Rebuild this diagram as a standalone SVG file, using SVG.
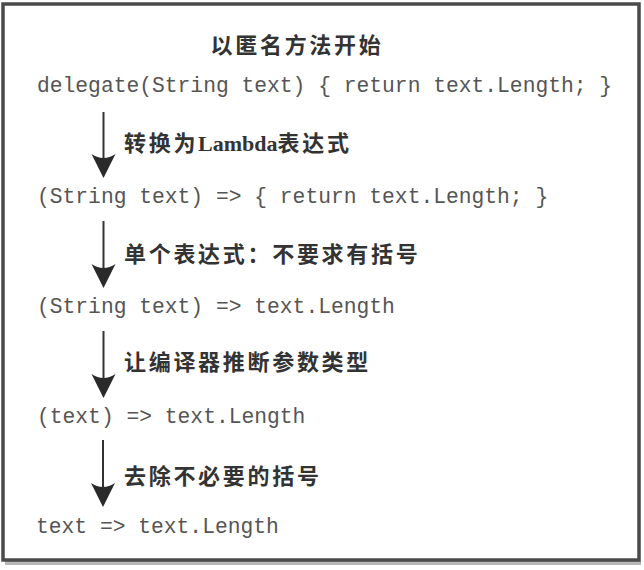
<svg xmlns="http://www.w3.org/2000/svg" width="644" height="570" viewBox="0 0 644 570">
  <defs>
    <style>
      .code { font-family: "Liberation Mono", "DejaVu Sans Mono", monospace; font-size: 21.3px; fill: #555; }
      .label { font-family: "Liberation Serif", "Noto Sans CJK SC", serif; font-size: 22px; font-weight: bold; fill: #333; letter-spacing: 2.7px; }
      .shaft { stroke: #333; stroke-width: 2; fill: none; }
      .head { fill: #2a2a2a; }
      .frame { fill: #fff; stroke: #4a4a4a; stroke-width: 3.5; }
    </style>
    <path id="arrowhead" d="M0,0 L-12,-24 Q0,-16 12,-24 Z"/>
  </defs>

  <rect width="644" height="570" fill="#fff"/>
  <rect x="5" y="561" width="636" height="4" fill="#999" opacity="0.7"/>
  <rect class="frame" x="3" y="4" width="636" height="556"/>

  <g id="title">
    <text class="label" x="297" y="53" text-anchor="middle">以匿名方法开始</text>
  </g>

  <g id="step1">
    <text class="code" x="37" y="92">delegate(String text) { return text.Length; }</text>
  </g>
  <g id="step2">
    <text class="code" x="37" y="203">(String text) =&gt; { return text.Length; }</text>
  </g>
  <g id="step3">
    <text class="code" x="37" y="313">(String text) =&gt; text.Length</text>
  </g>
  <g id="step4">
    <text class="code" x="37" y="423">(text) =&gt; text.Length</text>
  </g>
  <g id="step5">
    <text class="code" x="36" y="533">text =&gt; text.Length</text>
  </g>

  <g id="connectors">
    <g id="c1">
      <line class="shaft" x1="103.5" y1="112" x2="103.5" y2="165"/>
      <use href="#arrowhead" class="head" x="103.5" y="178"/>
      <text class="label" x="124" y="151">转换为<tspan letter-spacing="0">Lambda</tspan>表达式</text>
    </g>
    <g id="c2">
      <line class="shaft" x1="103.5" y1="221" x2="103.5" y2="275"/>
      <use href="#arrowhead" class="head" x="103.5" y="288"/>
      <text class="label" x="124" y="262">单个表达式：不要求有括号</text>
    </g>
    <g id="c3">
      <line class="shaft" x1="103.5" y1="331" x2="103.5" y2="385"/>
      <use href="#arrowhead" class="head" x="103.5" y="398"/>
      <text class="label" x="124" y="370">让编译器推断参数类型</text>
    </g>
    <g id="c4">
      <line class="shaft" x1="103" y1="440" x2="103" y2="494"/>
      <use href="#arrowhead" class="head" x="103" y="507"/>
      <text class="label" x="124" y="484">去除不必要的括号</text>
    </g>
  </g>
</svg>
